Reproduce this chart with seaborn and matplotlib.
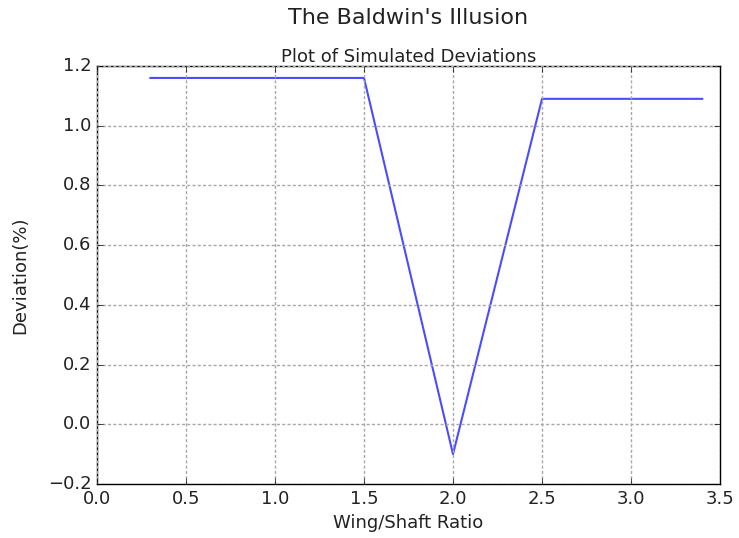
import matplotlib
matplotlib.use("Agg")
import matplotlib.pyplot as plt
import seaborn as sns
import pandas as pd

ratio = [0.3, 1.5, 2.0, 2.5, 3.4]
deviation = [1.16, 1.16, -0.10, 1.09, 1.09]

plt.style.use("classic")
plt.rcParams['font.family'] = ['DejaVu Sans']

df = pd.DataFrame({"ratio": ratio, "deviation": deviation})

fig = plt.figure(figsize=(7.39, 5.38), dpi=100, facecolor="white")
ax = fig.add_axes([97/739, 1-484/538, (720-97)/739, (484-66)/538])
sns.lineplot(data=df, x="ratio", y="deviation", ax=ax, color="blue", alpha=0.7, lw=1.5)
ax.set_xlim(0, 3.5)
ax.set_ylim(-0.2, 1.2)
ax.set_xticks([0.0, 0.5, 1.0, 1.5, 2.0, 2.5, 3.0, 3.5])
ax.set_yticks([-0.2, 0.0, 0.2, 0.4, 0.6, 0.8, 1.0, 1.2])
ax.grid(True, linestyle=(0, (2.2, 1.6)), color="#a8a8a8", lw=1)
ax.set_xlabel("Wing/Shaft Ratio", fontsize=13, color="#222222")
ax.set_ylabel("Deviation(%)", fontsize=13, color="#222222")
ax.yaxis.set_label_coords(-0.108, 0.5)
ax.set_title("Plot of Simulated Deviations", fontsize=13, color="#222222", pad=3)
fig.suptitle("The Baldwin's Illusion", fontsize=16, x=408/739, y=0.985, color="#222222")
ax.tick_params(labelsize=13, labelcolor="#222222")
fig.savefig("out.png", dpi=100, facecolor="white")
